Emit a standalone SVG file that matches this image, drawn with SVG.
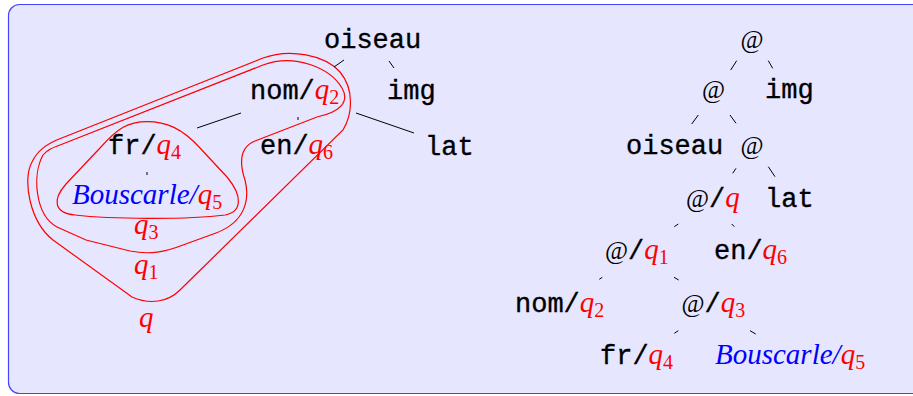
<svg xmlns="http://www.w3.org/2000/svg" width="913" height="396" viewBox="0 0 913 396">
<style>
.tt{font-family:"Liberation Mono","DejaVu Sans Mono",monospace;font-size:27px;fill:#000;stroke:#000;stroke-width:0.35}
.m{font-family:"Liberation Serif","DejaVu Serif",serif;font-style:italic;font-size:29px;fill:#ff0000;stroke:none}
.sub{font-family:"Liberation Serif","DejaVu Serif",serif;font-style:normal;font-size:20px;fill:#ff0000;stroke:none}
.at{font-family:"Liberation Serif","DejaVu Serif",serif;font-size:25px;fill:#000}
.bl{font-family:"Liberation Serif","DejaVu Serif",serif;font-style:italic;font-size:29px;fill:#0000ff}
.edge{stroke:#000;stroke-width:1;fill:none}
.reg{stroke:#ff0000;stroke-width:1.2;fill:none}
</style>
<rect x="8.5" y="4.5" width="915" height="389" rx="11" fill="#e6e6ff" stroke="#4545ff" stroke-width="1.2"/>

<g id="regions">
<path class="reg" d="M 56.7,140 L 263,58 C 290,48 325,55 340,72 C 355,90 352,115 343,130 L 180,290 C 168,302 150,305 132,297 L 53,240 C 30,222 22,180 32,162 C 38,150 46,145 56.7,140 Z"/>
<path class="reg" d="M 60,145 L 263,65 C 295,53 330,68 342,88 C 350,102 340,112 317,117 L 255,141 C 238,148 240,165 245,180 C 250,200 245,222 216,233 L 183,245 C 165,252 150,255 130,251 L 86,240 L 57,227 C 35,215 32,175 43,155 C 47,150 52,148 60,145 Z"/>
<path class="reg" d="M 147,121.7 C 128,121.7 118,128 100,148 L 66,184 C 52,200 54,213 75,215 C 110,219 185,220 225,215 C 242,212 243,196 227,177 L 200,148 C 182,128 166,121.7 147,121.7 Z"/>
</g>

<g id="connectors">
<line class="edge" x1="344" y1="60" x2="334" y2="67"/>
<line class="edge" x1="389" y1="61" x2="394" y2="68"/>
<line class="edge" x1="241" y1="113" x2="197" y2="128"/>
<line class="edge" x1="298" y1="117" x2="298" y2="120"/>
<line class="edge" x1="356" y1="113" x2="414" y2="133"/>
<line class="edge" x1="147" y1="172" x2="147" y2="175"/>
<line class="edge" x1="736.7" y1="60.7" x2="730.7" y2="70"/>
<line class="edge" x1="768.3" y1="60.7" x2="772.7" y2="68.3"/>
<line class="edge" x1="698.3" y1="115" x2="691.7" y2="124"/>
<line class="edge" x1="730" y1="115" x2="736" y2="123.3"/>
<line class="edge" x1="736" y1="168.3" x2="732.7" y2="173.3"/>
<line class="edge" x1="768.3" y1="166.7" x2="775" y2="176.7"/>
<line class="edge" x1="678.3" y1="224" x2="674.3" y2="226.7"/>
<line class="edge" x1="731.7" y1="224" x2="734.3" y2="226.7"/>
<line class="edge" x1="602.3" y1="277.3" x2="599.3" y2="279.3"/>
<line class="edge" x1="674" y1="277.3" x2="678.7" y2="280"/>
<line class="edge" x1="678.3" y1="330.7" x2="674.3" y2="333.3"/>
<line class="edge" x1="750" y1="330.7" x2="755.7" y2="334"/>
</g>

<g id="left-oiseau"><text class="tt" x="324" y="48">oiseau</text></g>
<g id="left-img"><text class="tt" x="387" y="99">img</text></g>
<g id="left-nom"><text x="250" y="99"><tspan class="tt">nom/</tspan><tspan class="m">q</tspan><tspan class="sub" dy="5">2</tspan></text></g>
<g id="left-en"><text x="260" y="154"><tspan class="tt">en/</tspan><tspan class="m">q</tspan><tspan class="sub" dy="5">6</tspan></text></g>
<g id="left-lat"><text class="tt" x="425" y="155">lat</text></g>
<g id="left-fr"><text x="108" y="154"><tspan class="tt">fr/</tspan><tspan class="m">q</tspan><tspan class="sub" dy="5">4</tspan></text></g>
<g id="left-bouscarle"><text x="72" y="204"><tspan class="bl">Bouscarle/</tspan><tspan class="m">q</tspan><tspan class="sub" dy="5">5</tspan></text></g>
<g id="label-q3"><text x="134" y="234"><tspan class="m">q</tspan><tspan class="sub" dy="5">3</tspan></text></g>
<g id="label-q1"><text x="134" y="274"><tspan class="m">q</tspan><tspan class="sub" dy="5">1</tspan></text></g>
<g id="label-q"><text class="m" x="139" y="327">q</text></g>

<g id="right-at1"><text class="at" x="740.5" y="48">@</text></g>
<g id="right-at2"><text class="at" x="702" y="98">@</text></g>
<g id="right-img"><text class="tt" x="765" y="98">img</text></g>
<g id="right-oiseau"><text class="tt" x="626" y="154">oiseau</text></g>
<g id="right-at3"><text class="at" x="740.5" y="154">@</text></g>
<g id="right-atq"><text x="686" y="207"><tspan class="at">@</tspan><tspan class="tt">/</tspan><tspan class="m">q</tspan></text></g>
<g id="right-lat"><text class="tt" x="765" y="207">lat</text></g>
<g id="right-atq1"><text x="605" y="259"><tspan class="at">@</tspan><tspan class="tt">/</tspan><tspan class="m">q</tspan><tspan class="sub" dy="5">1</tspan></text></g>
<g id="right-en"><text x="714" y="259"><tspan class="tt">en/</tspan><tspan class="m">q</tspan><tspan class="sub" dy="5">6</tspan></text></g>
<g id="right-nom"><text x="515" y="312"><tspan class="tt">nom/</tspan><tspan class="m">q</tspan><tspan class="sub" dy="5">2</tspan></text></g>
<g id="right-atq3"><text x="681.5" y="312"><tspan class="at">@</tspan><tspan class="tt">/</tspan><tspan class="m">q</tspan><tspan class="sub" dy="5">3</tspan></text></g>
<g id="right-fr"><text x="600" y="364"><tspan class="tt">fr/</tspan><tspan class="m">q</tspan><tspan class="sub" dy="5">4</tspan></text></g>
<g id="right-bouscarle"><text x="715" y="364"><tspan class="bl">Bouscarle/</tspan><tspan class="m">q</tspan><tspan class="sub" dy="5">5</tspan></text></g>
</svg>
